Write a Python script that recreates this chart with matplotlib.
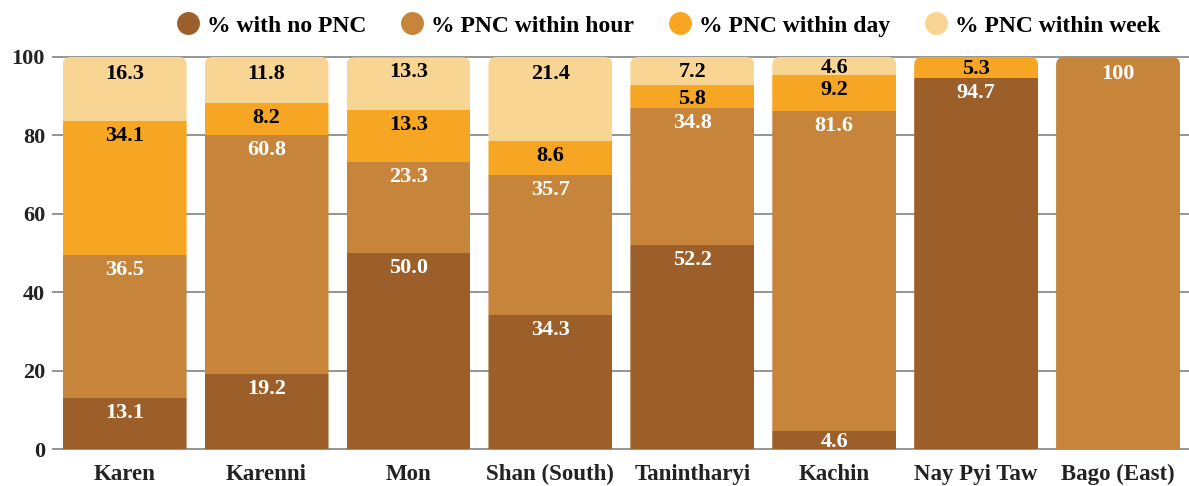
import matplotlib
matplotlib.use('Agg')
import matplotlib.pyplot as plt
from matplotlib.patches import FancyBboxPatch
from matplotlib.lines import Line2D
from matplotlib.transforms import IdentityTransform
import numpy as np

categories = ["Karen", "Karenni", "Mon", "Shan (South)", "Tanintharyi", "Kachin", "Nay Pyi Taw", "Bago (East)"]
no_pnc = [13.1, 19.2, 50.0, 34.3, 52.2, 4.6, 94.7, 0]
within_hour = [36.5, 60.8, 23.3, 35.7, 34.8, 81.6, 0, 100]
within_day = [34.1, 8.2, 13.3, 8.6, 5.8, 9.2, 5.3, 0]
within_week = [16.3, 11.8, 13.3, 21.4, 7.2, 4.6, 0, 0]
series_names = ["% with no PNC", "% PNC within hour", "% PNC within day", "% PNC within week"]
yticks = [0, 20, 40, 60, 80, 100]

colors = ['#9C5F2A', '#C6853B', '#F6A623', '#F8D592']
label_colors = ['white', 'white', 'black', 'black']
FONT = 'Liberation Serif'

W, H = 1189, 486
AX_L, AX_B, AX_T = 62, 449.3, 57.0
fig = plt.figure(figsize=(W / 100, H / 100), dpi=100)
ax = fig.add_axes([AX_L / W, (H - AX_B) / H, (W - AX_L) / W, (AX_B - AX_T) / H])

series = [no_pnc, within_hour, within_day, within_week]
x = np.arange(len(categories))
bw = 0.873
ax.set_xlim(-bw / 2 - 0.005, len(categories) - 0.5)
ax.set_ylim(0, 100)

bottoms = np.zeros(len(categories))
bar_groups = []
for vals, col in zip(series, colors):
    bars = ax.bar(x, vals, bottom=bottoms, width=bw, color=col, linewidth=0, zorder=2)
    bar_groups.append((bars, vals, bottoms.copy()))
    bottoms = bottoms + np.array(vals)

# rounded top corners via clip path in display coords
radius = 8
for i in range(len(categories)):
    (x0, y0) = ax.transData.transform((x[i] - bw / 2, 0))
    (x1, y1) = ax.transData.transform((x[i] + bw / 2, bottoms[i]))
    clip = FancyBboxPatch((x0, y0 - 30), x1 - x0, (y1 - y0) + 30,
                          boxstyle=f"round,pad=0,rounding_size={radius}",
                          transform=IdentityTransform(), facecolor='none', edgecolor='none')
    for bars, vals, bots in bar_groups:
        bars[i].set_clip_path(clip)

# value labels
px_per_unit = (AX_B - AX_T) / 100.0
for si, (bars, vals, bots) in enumerate(bar_groups):
    for i, v in enumerate(vals):
        if v <= 0:
            continue
        seg_px = v * px_per_unit
        off = float(np.clip((seg_px - 16) / 2, 0.5, 5))
        if abs(bots[i] + v - 100) < 1e-6 and seg_px > 30:
            off += 2
        txt = "100" if v == 100 else f"{v:.1f}"
        ax.annotate(txt, (x[i], bots[i] + v), xytext=(0, -off * 0.72), textcoords='offset points',
                    ha='center', va='top', fontsize=16, fontweight='bold',
                    color=label_colors[si], family=FONT, zorder=3)

# axes styling
for s in ax.spines.values():
    s.set_visible(False)
ax.set_yticks(yticks)
ax.set_yticklabels([str(t) for t in yticks], fontsize=16, fontweight='bold', family=FONT, color='#222222')
ax.set_xticks(x)
ax.set_xticklabels(categories, fontsize=16.5, fontweight='bold', family=FONT, color='#222222')
ax.tick_params(axis='y', length=7.2, width=1.3, color='#8c8c8c', pad=5)
ax.tick_params(axis='x', length=0, pad=10.5)
ax.yaxis.grid(True, color='#8c8c8c', linewidth=1.3, zorder=0)
ax.set_axisbelow(True)
for ln in ax.get_ygridlines():
    ln.set_clip_on(False)

# legend
handles = [Line2D([0], [0], marker='o', linestyle='none', markersize=16.5,
                  markerfacecolor=c, markeredgecolor='none') for c in colors]
fig.legend(handles, series_names, loc='center', bbox_to_anchor=(668 / W, 1 - 26 / H),
           ncol=4, frameon=False, handlelength=1.0, handletextpad=0.3, columnspacing=1.45,
           prop={'family': FONT, 'weight': 'bold', 'size': 17})

fig.savefig('out.png', dpi=100)
